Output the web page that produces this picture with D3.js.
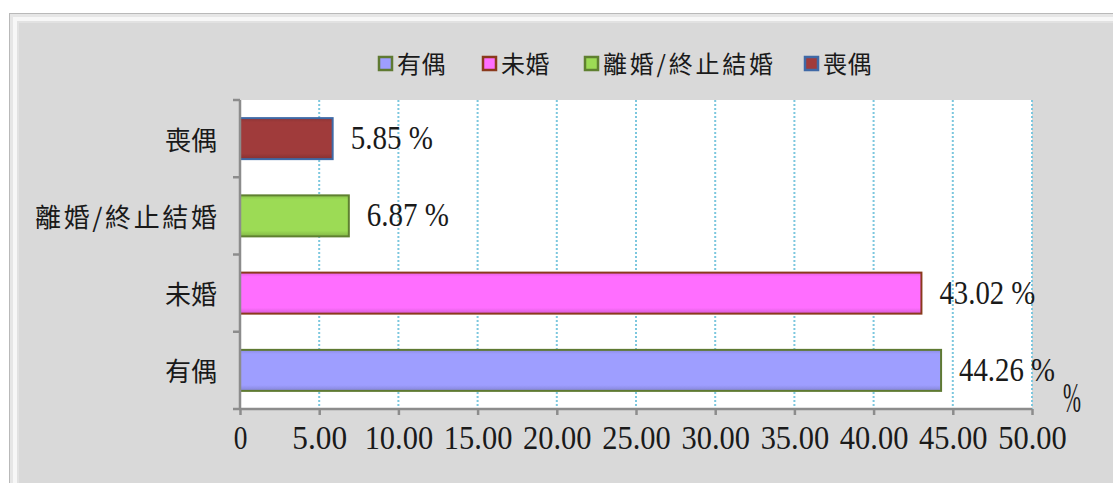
<!DOCTYPE html>
<html>
<head>
<meta charset="utf-8">
<script src="https://cdn.jsdelivr.net/npm/d3@7"></script>
<style>
  html, body { margin: 0; padding: 0; background: #ffffff; }
  svg { display: block; }
</style>
</head>
<body>
<svg id="chart" width="1113" height="483"></svg>
<script>
// Marital status shares (%)
const categories = ["有偶", "未婚", "離婚/終止結婚", "喪偶"];
const values = [44.26, 43.02, 6.87, 5.85];
const fillColors = ["#9e9eff", "#ff6eff", "#9cdb55", "#a03b3b"];
const strokeColors = ["#5f7a32", "#8a3a1c", "#5f8030", "#3f69a6"];
const xTicks = [0, 5, 10, 15, 20, 25, 30, 35, 40, 45, 50];
const unitLabel = "%";

const W = 1113, H = 483;
const plot = { left: 240, right: 1032, top: 100, bottom: 409 };

const cjkFont = "'Noto Sans CJK TC', 'Noto Sans CJK SC', sans-serif";
const numFont = "'Liberation Serif', 'DejaVu Serif', serif";
const charW = 13.7;   // width of one half-width digit cell
const axisCell = 26;  // width of one character cell in category labels
const legendCell = 24.3;

const svg = d3.select("#chart");
const defs = svg.append("defs");

// ---- outer panel with bevelled frame ----
svg.append("rect").attr("x", 9).attr("y", 13).attr("width", W).attr("height", H)
  .attr("fill", "#b9b9b9");
svg.append("rect").attr("x", 10).attr("y", 14).attr("width", W).attr("height", H)
  .attr("fill", "#e6e6e6");
svg.append("rect").attr("x", 13).attr("y", 17).attr("width", W).attr("height", H)
  .attr("fill", "#f7f7f7");
svg.append("rect").attr("x", 17).attr("y", 21).attr("width", W).attr("height", H)
  .attr("fill", "#e2e2e2");
svg.append("rect").attr("x", 19).attr("y", 23).attr("width", W).attr("height", H)
  .attr("fill", "#d9d9d9");

// ---- scales ----
const x = d3.scaleLinear().domain([0, 50]).range([plot.left, plot.right]);
const y = d3.scaleBand()
  .domain(categories.slice().reverse())
  .range([plot.top, plot.bottom])
  .paddingInner(0.469)
  .paddingOuter(0.2345);

// plot area background
svg.append("rect")
  .attr("x", x(0)).attr("y", plot.top)
  .attr("width", x(50) - x(0)).attr("height", plot.bottom - plot.top)
  .attr("fill", "#ffffff");

// dotted vertical gridlines
svg.append("g").selectAll("line")
  .data(xTicks.filter(d => d > 0))
  .join("line")
  .attr("x1", d => x(d)).attr("x2", d => x(d))
  .attr("y1", plot.top).attr("y2", plot.bottom)
  .attr("stroke", "#7cc7de")
  .attr("stroke-width", 2)
  .attr("stroke-dasharray", "2,2");

// bar shading gradients
categories.forEach((c, i) => {
  const base = d3.color(fillColors[i]);
  const g = defs.append("linearGradient")
    .attr("id", "barGrad" + i)
    .attr("x1", 0).attr("y1", 0).attr("x2", 0).attr("y2", 1);
  g.append("stop").attr("offset", "0%").attr("stop-color", base.darker(0.35));
  g.append("stop").attr("offset", "10%").attr("stop-color", base.formatHex());
  g.append("stop").attr("offset", "86%").attr("stop-color", base.formatHex());
  g.append("stop").attr("offset", "100%").attr("stop-color", base.darker(0.5));
});

// bars
const barData = categories.map((c, i) => ({ c, v: values[i], i }));
svg.append("g").selectAll("rect")
  .data(barData)
  .join("rect")
  .attr("x", x(0))
  .attr("y", d => y(d.c))
  .attr("width", d => x(d.v) - x(0))
  .attr("height", y.bandwidth())
  .attr("fill", d => `url(#barGrad${d.i})`)
  .attr("stroke", d => strokeColors[d.i])
  .attr("stroke-width", 2);

// value labels
const valueText = v => v.toFixed(2) + " %";
svg.append("g").selectAll("text")
  .data(barData)
  .join("text")
  .attr("x", d => x(d.v) + 18)
  .attr("y", d => y(d.c) + y.bandwidth() / 2 + 10.5)
  .attr("font-family", numFont)
  .attr("font-size", 33)
  .attr("fill", "#1a1a1a")
  .attr("textLength", d => valueText(d.v).length * charW)
  .attr("lengthAdjust", "spacingAndGlyphs")
  .text(d => valueText(d.v));

// ---- x axis ----
const tickText = d => d === 0 ? "0" : d.toFixed(2);
const xAxis = d3.axisBottom(x)
  .tickValues(xTicks)
  .tickSize(6)
  .tickFormat(tickText);
const gx = svg.append("g")
  .attr("transform", `translate(0,${plot.bottom})`)
  .call(xAxis);
gx.select(".domain").attr("stroke", "#8c8c8c").attr("stroke-width", 2.5)
  .attr("d", `M${x(0) - 1},0H${x(50)}`);
gx.selectAll(".tick line").attr("stroke", "#8c8c8c").attr("stroke-width", 2.5);
gx.selectAll(".tick text")
  .attr("y", 40)
  .attr("dy", null)
  .attr("font-family", numFont)
  .attr("font-size", 33)
  .attr("fill", "#1a1a1a")
  .attr("textLength", d => tickText(d).length * charW)
  .attr("lengthAdjust", "spacingAndGlyphs");

// ---- y axis ----
const gy = svg.append("g");
gy.append("line")
  .attr("x1", x(0)).attr("x2", x(0))
  .attr("y1", plot.top).attr("y2", plot.bottom + 1)
  .attr("stroke", "#8c8c8c").attr("stroke-width", 2.5);
const yTickPos = d3.range(categories.length + 1).map(k => y.range()[0] + k * y.step());
gy.selectAll("line.tk")
  .data(yTickPos)
  .join("line")
  .attr("class", "tk")
  .attr("x1", x(0) - 7).attr("x2", x(0))
  .attr("y1", d => d).attr("y2", d => d)
  .attr("stroke", "#8c8c8c").attr("stroke-width", 2.5);
gy.selectAll("text")
  .data(categories)
  .join("text")
  .attr("x", x(0) - 23)
  .attr("y", d => y(d) + y.bandwidth() / 2 + 11)
  .attr("text-anchor", "end")
  .attr("font-family", cjkFont)
  .attr("font-size", 26)
  .attr("fill", "#1a1a1a")
  .attr("textLength", d => d.length * axisCell)
  .attr("lengthAdjust", "spacing")
  .text(d => d);

// axis unit
svg.append("text")
  .attr("x", 1063).attr("y", 412)
  .attr("font-family", numFont)
  .attr("font-size", 42)
  .attr("fill", "#1a1a1a")
  .attr("textLength", 18)
  .attr("lengthAdjust", "spacingAndGlyphs")
  .text(unitLabel);

// ---- legend ----
const legendX = [378, 482, 584, 804];
const legend = svg.append("g");
categories.forEach((c, i) => {
  legend.append("rect")
    .attr("x", legendX[i] + 1).attr("y", 57)
    .attr("width", 13).attr("height", 13)
    .attr("fill", fillColors[i])
    .attr("stroke", strokeColors[i])
    .attr("stroke-width", 2.5);
  legend.append("text")
    .attr("x", legendX[i] + 19).attr("y", 73)
    .attr("font-family", cjkFont)
    .attr("font-size", 24)
    .attr("fill", "#1a1a1a")
    .attr("textLength", c.length * legendCell)
    .attr("lengthAdjust", "spacing")
    .text(c);
});
</script>
</body>
</html>
